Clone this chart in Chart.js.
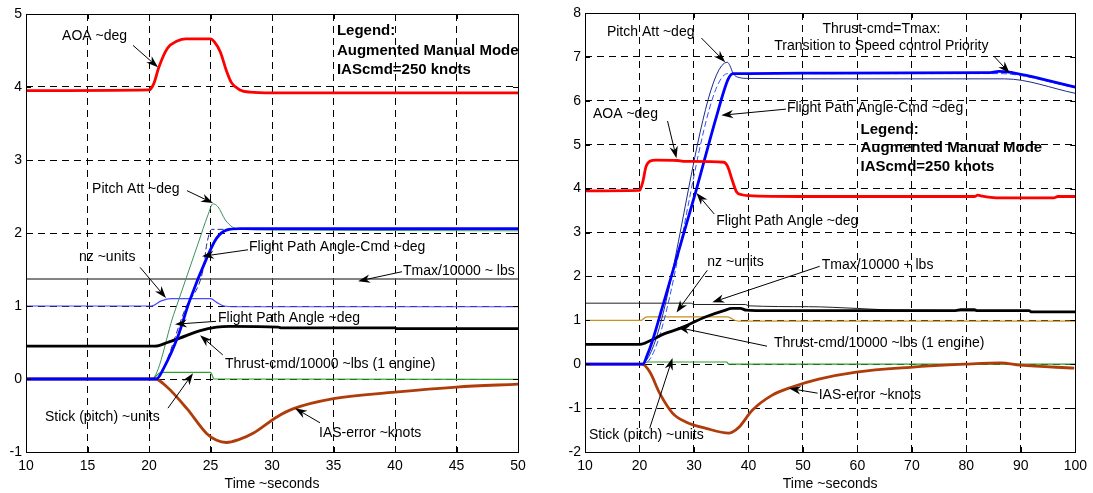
<!DOCTYPE html>
<html>
<head>
<meta charset="utf-8">
<script src="https://cdn.jsdelivr.net/npm/chart.js@4.4.0/dist/chart.umd.min.js"></script>
<style>
  html, body { margin: 0; padding: 0; background: #fff; }
  #wrap { position: relative; width: 1093px; height: 493px; }
  .panel { position: absolute; top: 0; height: 493px; }
  #p1 { left: 0; width: 540px; }
  #p2 { left: 540px; width: 553px; }
</style>
</head>
<body>
<div id="wrap">
  <div class="panel" id="p1"><canvas id="c1"></canvas></div>
  <div class="panel" id="p2"><canvas id="c2"></canvas></div>
</div>
<script>
// ---- left panel (10..50 s) ----
var xTicksL = [10, 15, 20, 25, 30, 35, 40, 45, 50];
var yTicksL = [-1, 0, 1, 2, 3, 4, 5];

var aoaL = [[10, 3.95], [20, 3.96], [20.4, 4.05], [20.8, 4.27], [21.5, 4.53], [22.3, 4.63], [23, 4.66], [25, 4.66],
    [25.3, 4.62], [25.8, 4.48], [26.3, 4.22], [26.7, 4.06], [27.4, 3.96], [28.2, 3.93], [30, 3.92], [50, 3.92]];
var pitchL = [[10, 0], [20.2, 0], [22, 0.88], [24, 1.86], [24.8, 2.25], [25.2, 2.40], [25.6, 2.36], [26.2, 2.18],
    [26.8, 2.08], [27.5, 2.05], [30, 2.04], [50, 2.03]];
var fpaCmdL = [[10, 0], [20.4, 0], [23.05, 1.0], [24.4, 1.5], [24.7, 1.85], [25.1, 2.05], [50, 2.05]];
var fpaL = [[10, 0], [20.6, 0], [21.2, 0.15], [22.3, 0.56], [23.3, 1.07], [24.7, 1.66], [25.5, 1.93], [26.3, 2.04],
    [27.4, 2.06], [50, 2.06]];
var nzL = [[10, 1.0], [20.2, 1.0], [21, 1.07], [21.8, 1.1], [25, 1.1], [25.5, 1.05], [26.1, 1.0], [27, 0.99], [50, 0.99]];
var tmaxL = [[10, 1.37], [50, 1.37]];
var thrustL = [[10, 0.45], [20.5, 0.45], [21.5, 0.5], [22.5, 0.56], [24.1, 0.66], [25.5, 0.71], [26.6, 0.72],
    [30.5, 0.71], [30.8, 0.70], [40, 0.70], [40.1, 0.69], [50, 0.69]];
var stickL = [[10, 0], [20.2, 0], [21, 0.09], [25, 0.09], [25.3, 0.0], [50, -0.005]];
var iasL = [[10, 0], [20.5, 0], [21.4, -0.1], [23.1, -0.41], [24.7, -0.75], [25.5, -0.84], [26.3, -0.87],
    [27.3, -0.83], [28.5, -0.74], [30.4, -0.52], [31.7, -0.41], [35, -0.27], [40, -0.18], [45, -0.11], [50, -0.07]];

// ---- right panel (10..100 s) ----
var xTicksR = [10, 20, 30, 40, 50, 60, 70, 80, 90, 100];
var yTicksR = [-2, -1, 0, 1, 2, 3, 4, 5, 6, 7, 8];

var aoaR = [[10, 3.95], [20, 3.96], [20.6, 4.15], [21.2, 4.5], [22, 4.63], [23, 4.65], [27, 4.64], [28, 4.62],
    [35.5, 4.60], [36.2, 4.5], [37, 4.2], [37.8, 3.93], [38.8, 3.86], [40, 3.84], [50, 3.82], [81.5, 3.82],
    [82.1, 3.85], [82.8, 3.83], [85.5, 3.79], [96, 3.79], [96.8, 3.82], [100, 3.82]];
var pitchR = [[10, 0], [20.2, 0], [36.1, 6.88], [36.6, 6.8], [37.2, 6.62], [38.3, 6.53], [40, 6.51], [60, 6.5],
    [87, 6.5], [100, 6.17]];
var fpaCmdR = [[10, 0], [20.7, 0], [36.2, 6.62], [86, 6.62], [100, 6.3]];
var fpaR = [[10, 0], [20.6, 0], [21.4, 0.2], [22.3, 0.5], [24.2, 1.3], [30.4, 3.96], [34.1, 5.63], [36.3, 6.5],
    [37.2, 6.62], [40, 6.62], [50, 6.63], [84, 6.64], [86, 6.67], [87.5, 6.66], [100, 6.31]];
var nzR = [[10, 1.0], [20.3, 1.0], [21.3, 1.08], [36.2, 1.08], [37.5, 1.0], [38.5, 0.98], [100, 0.98]];
var tmaxR = [[10, 1.39], [29.5, 1.39], [30, 1.36], [39.5, 1.36], [40, 1.33], [51, 1.31], [60, 1.27], [65, 1.24],
    [70, 1.23], [78, 1.22], [100, 1.19]];
var thrustR = [[10, 0.45], [20, 0.45], [21, 0.48], [22.4, 0.56], [24.5, 0.69], [27.3, 0.81], [32.2, 1.08],
    [35.5, 1.22], [37, 1.27], [38.5, 1.27], [39.6, 1.23], [41.4, 1.22], [60, 1.22], [78, 1.22], [79, 1.24],
    [81.5, 1.24], [82, 1.22], [91.5, 1.22], [92, 1.19], [100, 1.19]];
var stickR = [[10, 0], [20.3, 0], [21.5, 0.05], [36, 0.05], [36.4, 0], [100, 0]];
var iasR = [[10, 0], [20.5, 0], [21.9, -0.18], [23.7, -0.66], [26.1, -1.12], [28.6, -1.32], [32.2, -1.46],
    [36.4, -1.57], [37, -1.55], [38.3, -1.43], [40.7, -1.05], [44.3, -0.71], [48, -0.52], [52.9, -0.34],
    [59.8, -0.18], [69.7, -0.07], [79.7, 0], [86.3, 0.03], [89.9, -0.02], [99.8, -0.09]];

// annotation text and arrows, placed in data units
var labelsL = [
    {t: 'AOA ~deg', x: 12.93, y: 4.70},
    {t: 'Legend:', x: 35.28, y: 4.77, b: true},
    {t: 'Augmented Manual Mode', x: 35.28, y: 4.50, b: true},
    {t: 'IAScmd=250 knots', x: 35.28, y: 4.23, b: true},
    {t: 'Pitch Att ~deg', x: 15.37, y: 2.60},
    {t: 'Flight Path Angle-Cmd ~deg', x: 28.13, y: 1.81},
    {t: 'Tmax/10000 ~ lbs', x: 40.65, y: 1.48},
    {t: 'nz ~units', x: 14.31, y: 1.67},
    {t: 'Flight Path Angle ~deg', x: 25.61, y: 0.84},
    {t: 'Thrust-cmd/10000 ~lbs (1 engine)', x: 26.18, y: 0.21},
    {t: 'Stick (pitch) ~units', x: 11.54, y: -0.52},
    {t: 'IAS-error ~knots', x: 33.82, y: -0.74}
];
var arrowsL = [
    [18.70, 4.57, 20.73, 4.27],
    [23.09, 2.58, 25.2, 2.41],
    [28.05, 1.77, 24.31, 1.68],
    [40.57, 1.47, 37.0, 1.34],
    [19.27, 1.53, 21.38, 1.11],
    [25.45, 0.79, 22.11, 0.75],
    [26.0, 0.33, 24.15, 0.60],
    [21.54, -0.40, 23.58, 0.08],
    [33.9, -0.60, 31.87, -0.40]
];
var labelsR = [
    {t: 'Pitch Att ~deg', x: 14.02, y: 7.56},
    {t: 'Thrust-cmd=Tmax:', x: 64.4, y: 7.63, c: true},
    {t: 'Transition to Speed control Priority', x: 64.4, y: 7.24, c: true},
    {t: 'Flight Path Angle-Cmd ~deg', x: 47.06, y: 5.83},
    {t: 'AOA ~deg', x: 11.46, y: 5.69},
    {t: 'Legend:', x: 60.57, y: 5.33, b: true},
    {t: 'Augmented Manual Mode', x: 60.57, y: 4.92, b: true},
    {t: 'IAScmd=250 knots', x: 60.57, y: 4.49, b: true},
    {t: 'Flight Path Angle ~deg', x: 34.10, y: 3.26},
    {t: 'nz ~units', x: 32.45, y: 2.32},
    {t: 'Tmax/10000 + lbs', x: 53.45, y: 2.26},
    {t: 'Thrust-cmd/10000 ~lbs (1 engine)', x: 44.68, y: 0.48},
    {t: 'Stick (pitch) ~units', x: 10.73, y: -1.62},
    {t: 'IAS-error ~knots', x: 52.9, y: -0.71}
];
var arrowsR = [
    [31.36, 7.43, 35.74, 6.88],
    [85.03, 7.02, 87.95, 6.63],
    [46.88, 5.81, 35.01, 5.67],
    [25.15, 5.54, 26.79, 4.69],
    [33.73, 3.42, 30.45, 3.90],
    [32.45, 2.14, 26.79, 1.18],
    [53.08, 2.23, 33.37, 1.41],
    [43.41, 0.41, 26.98, 0.84],
    [21.87, -1.46, 26.06, 0.14],
    [52.7, -0.66, 47.42, -0.55]
];

var FONT = "'Liberation Sans', Arial, Helvetica, sans-serif";

function pts(a) {
    return a.map(function (p) { return {x: p[0], y: p[1]}; });
}

function line(data, color, width, dash) {
    return {
        data: pts(data),
        borderColor: color,
        borderWidth: width,
        borderDash: dash || [],
        pointRadius: 0,
        fill: false,
        tension: 0,
        cubicInterpolationMode: 'monotone'
    };
}

function drawArrow(ctx, x1, y1, x2, y2) {
    var ang = Math.atan2(y2 - y1, x2 - x1);
    var c = Math.cos(ang), s = Math.sin(ang);
    var len = 12, w = 4.2;
    ctx.beginPath();
    ctx.moveTo(x1, y1);
    ctx.lineTo(x2 - len * 0.7 * c, y2 - len * 0.7 * s);
    ctx.stroke();
    ctx.beginPath();
    ctx.moveTo(x2, y2);
    ctx.lineTo(x2 - len * c + w * s, y2 - len * s - w * c);
    ctx.lineTo(x2 - len * 0.7 * c, y2 - len * 0.7 * s);
    ctx.lineTo(x2 - len * c - w * s, y2 - len * s + w * c);
    ctx.closePath();
    ctx.fill();
}

// frame, inner tick marks, text notes and arrows
var notes = {
    id: 'notes',
    afterDatasetsDraw: function (chart, args, opts) {
        var ctx = chart.ctx, a = chart.chartArea;
        var xs = chart.scales.x, ys = chart.scales.y;
        ctx.save();
        ctx.strokeStyle = '#000';
        ctx.fillStyle = '#000';
        ctx.lineWidth = 1;
        ctx.setLineDash([]);
        ctx.strokeRect(Math.round(a.left) + 0.5, Math.round(a.top) + 0.5,
            Math.round(a.right - a.left), Math.round(a.bottom - a.top));
        ctx.beginPath();
        opts.xTicks.forEach(function (v) {
            var px = Math.round(xs.getPixelForValue(v)) + 0.5;
            ctx.moveTo(px, a.bottom); ctx.lineTo(px, a.bottom - 5);
            ctx.moveTo(px, a.top); ctx.lineTo(px, a.top + 5);
        });
        opts.yTicks.forEach(function (v) {
            var py = Math.round(ys.getPixelForValue(v)) + 0.5;
            ctx.moveTo(a.left, py); ctx.lineTo(a.left + 5, py);
            ctx.moveTo(a.right, py); ctx.lineTo(a.right - 5, py);
        });
        ctx.stroke();

        ctx.lineWidth = 1;
        opts.arrows.forEach(function (r) {
            drawArrow(ctx, xs.getPixelForValue(r[0]), ys.getPixelForValue(r[1]),
                xs.getPixelForValue(r[2]), ys.getPixelForValue(r[3]));
        });

        ctx.textBaseline = 'middle';
        opts.labels.forEach(function (l) {
            ctx.font = (l.b ? 'bold 15px ' : '14px ') + FONT;
            ctx.textAlign = l.c ? 'center' : 'left';
            ctx.fillText(l.t, xs.getPixelForValue(l.x), ys.getPixelForValue(l.y));
        });
        ctx.restore();
    }
};

function scales(xMin, xMax, xTicks, yMin, yMax, yTicks, yWidth) {
    return {
        x: {
            type: 'linear', min: xMin, max: xMax,
            afterBuildTicks: function (s) { s.ticks = xTicks.map(function (v) { return {value: v}; }); },
            afterFit: function (s) { s.height = 41; },
            grid: {color: '#000', lineWidth: 1, drawTicks: false},
            border: {display: false, dash: [7, 5]},
            ticks: {color: '#000', font: {family: FONT, size: 14}, padding: 6, maxRotation: 0, autoSkip: false},
            title: {display: true, text: 'Time ~seconds', color: '#000', font: {family: FONT, size: 14},
                padding: {top: 0, bottom: 0}}
        },
        y: {
            type: 'linear', min: yMin, max: yMax,
            afterBuildTicks: function (s) { s.ticks = yTicks.map(function (v) { return {value: v}; }); },
            afterFit: function (s) { s.width = yWidth; },
            grid: {color: '#000', lineWidth: 1, drawTicks: false},
            border: {display: false, dash: [7, 5]},
            ticks: {color: '#000', font: {family: FONT, size: 14}, padding: 4, autoSkip: false}
        }
    };
}

new Chart(document.getElementById('c1'), {
    type: 'line',
    data: {
        datasets: [
            line(aoaL, '#ff0000', 2.8),
            line(fpaL, '#0000ff', 2.8),
            line(thrustL, '#000000', 2.8),
            line(iasL, '#b03c0a', 2.8),
            line(fpaCmdL, '#1c2a8c', 1, [6, 3]),
            line(pitchL, '#3a9060', 1),
            line(nzL, '#4a4aff', 1.2),
            line(tmaxL, '#5a5a5a', 1.3),
            line(stickL, '#2ea02e', 1.2)
        ]
    },
    options: {
        responsive: true,
        maintainAspectRatio: false,
        animation: false,
        layout: {padding: {left: 0, right: 22, top: 14, bottom: 0}},
        scales: scales(10, 50, xTicksL, -1, 5, yTicksL, 26),
        plugins: {
            legend: {display: false},
            tooltip: {enabled: false},
            notes: {labels: labelsL, arrows: arrowsL, xTicks: xTicksL, yTicks: yTicksL}
        }
    },
    plugins: [notes]
});

new Chart(document.getElementById('c2'), {
    type: 'line',
    data: {
        datasets: [
            line(aoaR, '#ff0000', 2.8),
            line(fpaR, '#0000ff', 2.8),
            line(thrustR, '#000000', 2.8),
            line(iasR, '#b03c0a', 2.8),
            line(fpaCmdR, '#3050ff', 1, [6, 3]),
            line(pitchR, '#1c2a8c', 1),
            line(nzR, '#c8901e', 1.2),
            line(tmaxR, '#222222', 1),
            line(stickR, '#2ea02e', 1.2)
        ]
    },
    options: {
        responsive: true,
        maintainAspectRatio: false,
        animation: false,
        layout: {padding: {left: 0, right: 15, top: 13, bottom: 0}},
        scales: scales(10, 100, xTicksR, -2, 8, yTicksR, 45),
        plugins: {
            legend: {display: false},
            tooltip: {enabled: false},
            notes: {labels: labelsR, arrows: arrowsR, xTicks: xTicksR, yTicks: yTicksR}
        }
    },
    plugins: [notes]
});
</script>
</body>
</html>
